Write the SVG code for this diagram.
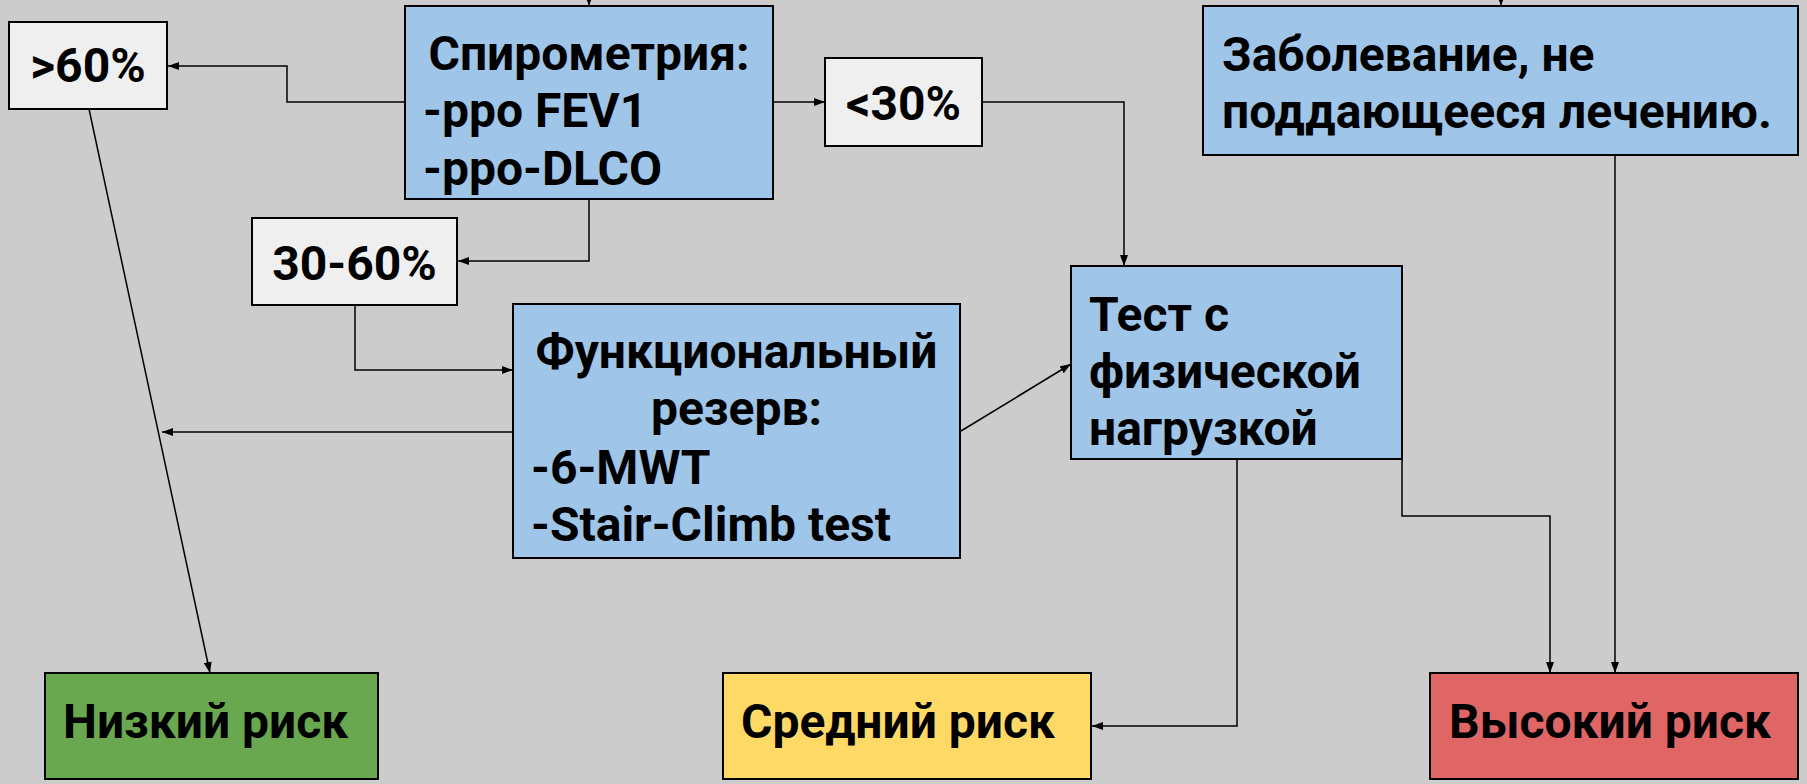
<svg xmlns="http://www.w3.org/2000/svg" width="1807" height="784" viewBox="0 0 1807 784">
<style>
.box{stroke:#000;stroke-width:2}
.blue{fill:#9fc5e8}
.light{fill:#efefef}
.green{fill:#6aa84f}
.yellow{fill:#ffd966}
.red{fill:#e06666}
.t{font-family:Roboto,"Liberation Sans",sans-serif;font-weight:bold;font-size:48px;fill:#000}
.c{text-anchor:middle}
.conn{fill:none;stroke:#000;stroke-width:1.5;marker-end:url(#ah)}
</style>
<defs>
<marker id="ah" markerUnits="userSpaceOnUse" markerWidth="12" markerHeight="9" refX="11" refY="4" orient="auto">
<path d="M0,0 L11,4 L0,8 z" fill="#000"/>
</marker>
</defs>
<rect width="1807" height="784" fill="#cccccc"/>
<g id="connectors">
<path class="conn" d="M589,-12 L589,6"/>
<path class="conn" d="M1501,-12 L1501,6"/>
<path class="conn" d="M405,102 L287,102 L287,66 L168,66"/>
<path class="conn" d="M589,199 L589,261 L458,261"/>
<path class="conn" d="M773,102 L825,102"/>
<path class="conn" d="M982,102 L1124,102 L1124,266"/>
<path class="conn" d="M89,109 L210,673"/>
<path class="conn" d="M355,305 L355,370 L513,370"/>
<path class="conn" d="M513,432 L162,432"/>
<path class="conn" d="M961,431 L1071,364"/>
<path class="conn" d="M1237,459 L1237,726 L1092,726"/>
<path class="conn" d="M1402,459 L1402,516 L1550,516 L1550,673"/>
<path class="conn" d="M1615,155 L1615,673"/>
</g>
<g id="spirometry">
<rect class="box blue" x="405" y="6" width="368" height="193"/>
<text class="t c" x="589" y="70">Спирометрия:</text>
<text class="t" x="423" y="127">-ppo FEV1</text>
<text class="t" x="423" y="185">-ppo-DLCO</text>
</g>
<g id="gt60">
<rect class="box light" x="9" y="22" width="158" height="87"/>
<text class="t c" x="88" y="82">&gt;60%</text>
</g>
<g id="r30-60">
<rect class="box light" x="252" y="218" width="205" height="87"/>
<text class="t c" x="354.5" y="280">30-60%</text>
</g>
<g id="lt30">
<rect class="box light" x="825" y="58" width="157" height="88"/>
<text class="t c" x="903.5" y="120">&lt;30%</text>
</g>
<g id="disease">
<rect class="box blue" x="1203" y="6" width="595" height="149"/>
<text class="t" x="1222" y="71">Заболевание, не</text>
<text class="t" x="1222" y="128">поддающееся лечению.</text>
</g>
<g id="functional">
<rect class="box blue" x="513" y="304" width="447" height="254"/>
<text class="t c" x="736.5" y="368">Функциональный</text>
<text class="t c" x="736.5" y="425">резерв:</text>
<text class="t" x="531" y="484">-6-MWT</text>
<text class="t" x="531" y="541">-Stair-Climb test</text>
</g>
<g id="exercise">
<rect class="box blue" x="1071" y="266" width="331" height="193"/>
<text class="t" x="1089" y="331">Тест с</text>
<text class="t" x="1089" y="388">физической</text>
<text class="t" x="1089" y="445">нагрузкой</text>
</g>
<g id="low">
<rect class="box green" x="45" y="673" width="333" height="106"/>
<text class="t" x="63" y="738">Низкий риск</text>
</g>
<g id="medium">
<rect class="box yellow" x="723" y="673" width="368" height="106"/>
<text class="t" x="741" y="738">Средний риск</text>
</g>
<g id="high">
<rect class="box red" x="1430" y="673" width="368" height="106"/>
<text class="t" x="1449" y="738">Высокий риск</text>
</g>
</svg>
